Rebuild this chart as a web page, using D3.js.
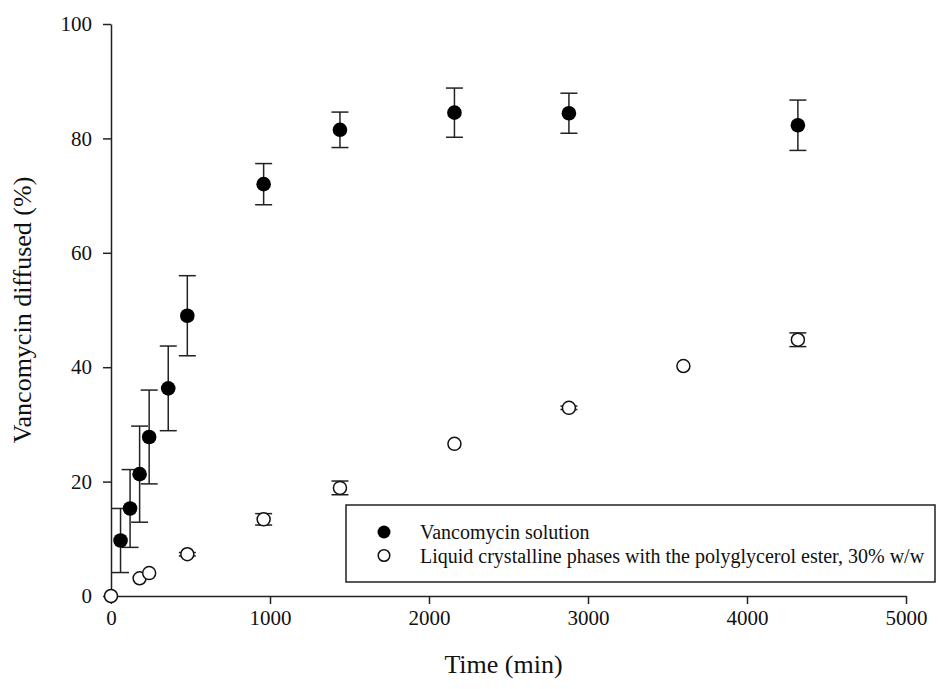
<html><head>
<meta charset="UTF-8">
<title>Vancomycin diffused</title>
<script src="https://d3js.org/d3.v7.min.js"></script>
<style>
    body { margin: 0; background: #fff; }
    svg text { font-family: "Liberation Serif", "Times New Roman", serif; fill: #111; }
    .axis path, .axis line { stroke: #222; stroke-width: 1.5px; }
</style>
</head>
<body>
<div id="chart"></div>
<script>
    // solution series (filled circles)
    const solTime = [60, 120, 180, 240, 360, 480, 960, 1440, 2160, 2880, 4320];
    const solMean = [9.7, 15.3, 21.3, 27.8, 36.3, 49.0, 72.0, 81.5, 84.5, 84.4, 82.3];
    const solErr  = [5.6, 6.8, 8.4, 8.2, 7.4, 7.0, 3.6, 3.1, 4.3, 3.5, 4.4];

    // liquid crystalline phase series (open circles)
    const lcTime = [0, 180, 240, 480, 960, 1440, 2160, 2880, 3600, 4320];
    const lcMean = [0, 3.1, 4.0, 7.3, 13.4, 18.9, 26.6, 32.9, 40.2, 44.8];
    const lcErr  = [0, 0, 0, 0.3, 1.0, 1.2, 0, 0.3, 0, 1.2];

    const xTicks = [0, 1000, 2000, 3000, 4000, 5000];
    const yTicks = [0, 20, 40, 60, 80, 100];
    const legendLabels = ["Vancomycin solution", "Liquid crystalline phases with the polyglycerol ester, 30% w/w"];

    const W = 938, H = 689;
    const margin = { top: 24, right: 32, bottom: 93, left: 111 };
    const width = W - margin.left - margin.right;
    const height = H - margin.top - margin.bottom;

    const svg = d3.select("#chart").append("svg")
        .attr("width", W)
        .attr("height", H);

    const g = svg.append("g")
        .attr("transform", `translate(${margin.left},${margin.top})`);

    const x = d3.scaleLinear().domain([0, 5000]).range([0, width]);
    const y = d3.scaleLinear().domain([0, 100]).range([height, 0]);

    // axes
    const xAxis = g.append("g")
        .attr("class", "axis")
        .attr("transform", `translate(0,${height})`)
        .call(d3.axisBottom(x).tickValues(xTicks).tickSize(8).tickSizeOuter(0).tickPadding(6).tickFormat(d3.format("d")));
    xAxis.selectAll("text").style("font-size", "21px");

    const yAxis = g.append("g")
        .attr("class", "axis")
        .call(d3.axisLeft(y).tickValues(yTicks).tickSize(8).tickSizeOuter(0).tickPadding(11).tickFormat(d3.format("d")));
    yAxis.selectAll("text").style("font-size", "21px");

    // axis titles
    svg.append("text")
        .attr("x", margin.left + width / 2 - 5)
        .attr("y", 673)
        .attr("text-anchor", "middle")
        .style("font-size", "26px")
        .text("Time (min)");

    svg.append("text")
        .attr("transform", `translate(31,${margin.top + height / 2}) rotate(-90)`)
        .attr("text-anchor", "middle")
        .style("font-size", "26px")
        .text("Vancomycin diffused (%)");

    const sol = solTime.map((t, i) => ({ t, m: solMean[i], e: solErr[i] }));
    const lc = lcTime.map((t, i) => ({ t, m: lcMean[i], e: lcErr[i] }));

    function errorBars(data, cls) {
        const eb = g.append("g").attr("class", cls)
            .selectAll("g").data(data.filter(d => d.e > 0)).enter().append("g")
            .attr("stroke", "#222").attr("stroke-width", 1.5);
        eb.append("line")
            .attr("x1", d => x(d.t)).attr("x2", d => x(d.t))
            .attr("y1", d => y(d.m + d.e)).attr("y2", d => y(d.m - d.e));
        eb.append("line")
            .attr("x1", d => x(d.t) - 8.5).attr("x2", d => x(d.t) + 8.5)
            .attr("y1", d => y(d.m + d.e)).attr("y2", d => y(d.m + d.e));
        eb.append("line")
            .attr("x1", d => x(d.t) - 8.5).attr("x2", d => x(d.t) + 8.5)
            .attr("y1", d => y(d.m - d.e)).attr("y2", d => y(d.m - d.e));
    }

    errorBars(sol, "err-sol");
    errorBars(lc, "err-lc");

    g.append("g").selectAll("circle").data(lc).enter().append("circle")
        .attr("cx", d => x(d.t)).attr("cy", d => y(d.m))
        .attr("r", 6.5)
        .attr("fill", "#fff").attr("stroke", "#111").attr("stroke-width", 1.5);

    g.append("g").selectAll("circle").data(sol).enter().append("circle")
        .attr("cx", d => x(d.t)).attr("cy", d => y(d.m))
        .attr("r", 7.3)
        .attr("fill", "#000");

    // legend
    const legend = svg.append("g");
    legend.append("rect")
        .attr("x", 346).attr("y", 505)
        .attr("width", 589).attr("height", 77)
        .attr("fill", "#fff").attr("stroke", "#222").attr("stroke-width", 1.5);

    legendLabels.forEach((label, i) => {
        const cy = 532 + i * 23.5;
        legend.append("circle")
            .attr("cx", 384).attr("cy", cy)
            .attr("r", i === 0 ? 6.5 : 5.8)
            .attr("fill", i === 0 ? "#000" : "#fff")
            .attr("stroke", "#111").attr("stroke-width", i === 0 ? 0 : 1.5);
        legend.append("text")
            .attr("x", 420).attr("y", cy + 7)
            .style("font-size", "20px")
            .text(label);
    });
</script>
</body>
</html>
